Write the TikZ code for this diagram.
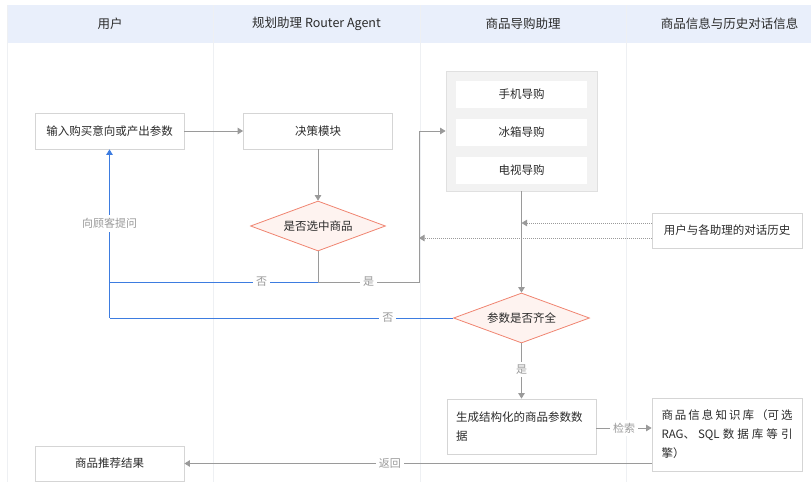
\documentclass[tikz,border=0pt]{standalone}
\usepackage{fontspec}
\setmainfont{Noto Sans CJK SC}
\XeTeXlinebreaklocale "zh"
\XeTeXlinebreakskip=0pt plus 2pt
\usetikzlibrary{shapes.geometric, arrows.meta, positioning, calc}
\definecolor{headBlue}{HTML}{E9EFFB}
\definecolor{laneGray}{HTML}{EEF0F3}
\definecolor{boxLine}{HTML}{D5D5D5}
\definecolor{textDark}{HTML}{2B2B2B}
\definecolor{flowGray}{HTML}{9A9A9A}
\definecolor{askBlue}{HTML}{3D7CE0}
\definecolor{diaLine}{HTML}{F08470}
\definecolor{diaFill}{HTML}{FEF3F0}
\definecolor{boxGray}{HTML}{F2F2F2}
\tikzset{
    font=\fontsize{11.5}{19}\selectfont,
    text=textDark,
    %
    % 泳道与表头
    lane/.style={draw=laneGray, line width=0.8pt},
    head/.style={font=\fontsize{12.5}{15}\selectfont},
    %
    % 基础节点样式
    baseBox/.style={
        rectangle, draw=boxLine, fill=white, line width=0.8pt,
        minimum width=149pt, minimum height=36pt, align=center
    },
    decision/.style={
        diamond, draw=diaLine, fill=diaFill, line width=0.8pt,
        shape aspect=2.7, inner sep=0pt,
        minimum width=135pt, minimum height=50pt
    },
    container/.style={
        rectangle, draw=black!12, fill=boxGray, line width=0.8pt,
        minimum width=151pt, minimum height=120pt
    },
    subBox/.style={
        rectangle, fill=white, minimum width=131pt, minimum height=26.5pt
    },
    %
    % 连线样式
    flow/.style={
        draw=flowGray, line width=0.9pt,
        -{Triangle[length=5.5pt, width=6.5pt]}
    },
    ask/.style={draw=askBlue, line width=0.9pt},
    hist/.style={flow, dash pattern=on 1pt off 1pt},
    tag/.style={fill=white, inner sep=3pt, text=flowGray, font=\fontsize{11}{13}\selectfont}
}

\begin{document}
\begin{tikzpicture}[x=1pt, y=-1pt]
	\useasboundingbox (0,0) rectangle (811,482);

	%% 泳道
	\fill[headBlue] (7,5) rectangle (811,43);
	\foreach \x in {7,213,420,626}
		\draw[lane] (\x,5) -- (\x,482);
	\node (hUser) [head] at (110,24) {用户};
	\node (hRouter) [head] at (316.5,24) {规划助理 Router Agent};
	\node (hGuide) [head] at (523,24) {商品导购助理};
	\node (hInfo) [head] at (729.5,24) {商品信息与历史对话信息};

	%% 布局
	\node (input) [baseBox] at (109.5,131) {输入购买意向或产出参数};
	\node (decide) [baseBox] at (318,131) {决策模块};
	\node (pick) [decision] at (318,226) {是否选中商品};

	\node (guide) [container] at (521.5,131) {};
	\node (phone) [subBox] at (521.5,94.5) {手机导购};
	\node (fridge) [subBox, below=11pt of phone] {冰箱导购};
	\node (tv) [subBox, below=11pt of fridge] {电视导购};

	\node (history) [baseBox, minimum width=150pt, minimum height=35pt] at (727,230.5) {用户与各助理的对话历史};
	\node (param) [decision, minimum width=136pt] at (521.5,318) {参数是否齐全};
	\node (gen) [baseBox, text width=131pt, inner xsep=9pt, align=left, minimum height=55pt]
		at (521.5,426.5) {生成结构化的商品参数数\\据};
	\node (kb) [baseBox, text width=131pt, inner xsep=9.5pt, align=justify, minimum width=150pt, minimum height=73pt]
		at (727,434.5) {商品信息知识库（可选\linebreak RAG、SQL数据库等引\linebreak 擎）};
	\node (result) [baseBox, minimum height=35pt] at (109.5,463.5) {商品推荐结果};

	%% 折点
	\coordinate (split) at (318,282);
	\coordinate (yesTurn) at (419,282);
	\coordinate (askTurn) at (109.5,318);

	%% 连线
	\draw[flow] (input) -- (decide);
	\draw[flow] (decide) -- (pick);
	\draw[flow] (pick.south) -- (split) -- node [tag] {是} (yesTurn) |- (guide.west);
	\draw[ask] (split) -- node [tag, pos=0.27] {否} (split -| input.south);
	\draw[ask, -{Triangle[length=5.5pt, width=6.5pt]}] (askTurn)
		-- node [tag, pos=0.56] {向顾客提问} (input.south);
	\draw[ask] (param.west) -- node [tag, pos=0.19] {否} (askTurn);

	\draw[flow] (guide.south) -- (param.north);
	\draw[hist] ([yshift=7.5pt]history.west) -- ([yshift=7.5pt]history.west -| guide.south);
	\draw[hist] ([yshift=-7.5pt]history.west) -- ([yshift=-7.5pt]history.west -| yesTurn);

	\draw[flow] (param.south) -- node [tag, pos=0.47] {是} (gen.north);
	\draw[flow] (gen.east |- 0,428) -- node [tag] {检索} (kb.west |- 0,428);
	\draw[flow] (kb.west |- result.east) -- node [tag, pos=0.56] {返回} (result.east);

\end{tikzpicture}
\end{document}
